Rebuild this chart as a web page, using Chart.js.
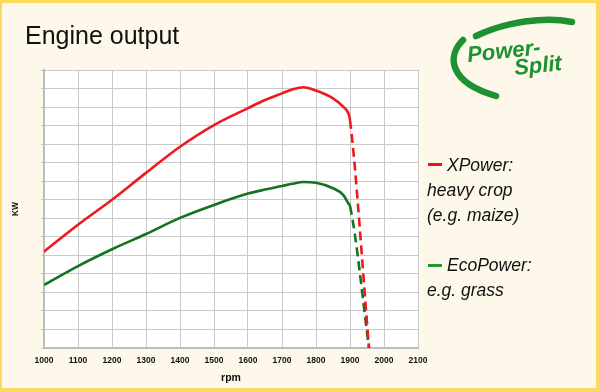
<!DOCTYPE html>
<html>
<head>
<meta charset="utf-8">
<script src="https://cdn.jsdelivr.net/npm/chart.js@4/dist/chart.umd.min.js"></script>
<style>
  html, body { margin: 0; padding: 0; }
  body { width: 600px; height: 392px; overflow: hidden; font-family: "Liberation Sans", Arial, sans-serif; }
  #frame { position: absolute; left: 0; top: 0; width: 600px; height: 392px; box-sizing: border-box;
           background: #fdf8ea; border-style: solid; border-color: #fcd95e; border-width: 3px 4px 4px 2px; }
  #c { position: absolute; left: 0; top: 0; }
  .t { position: absolute; white-space: nowrap; color: #111; }
  #title { left: 25px; top: 20px; font-size: 25px; line-height: 30px; }
  .leg { font-style: italic; font-size: 17.5px; line-height: 25px; }
  .mk { position: absolute; width: 14px; height: 3px; }
</style>
</head>
<body>
<div id="frame"></div>
<canvas id="c" width="600" height="392"></canvas>
<div class="t" id="title">Engine output</div>

<div class="mk" style="left:428px;top:163px;background:#e8141b"></div>
<div class="t leg" style="left:447px;top:153px">XPower:</div>
<div class="t leg" style="left:427px;top:178px">heavy crop</div>
<div class="t leg" style="left:427px;top:203px">(e.g. maize)</div>
<div class="mk" style="left:428px;top:264px;background:#1f9a2c"></div>
<div class="t leg" style="left:447px;top:253px">EcoPower:</div>
<div class="t leg" style="left:427px;top:278px">e.g. grass</div>

<svg style="position:absolute;left:0;top:0" width="600" height="392">
  <path d="M 476 36 C 505 22, 545 16, 572 22" fill="none" stroke="#1e9130" stroke-width="6.5" stroke-linecap="round"/>
  <path d="M 463 40 C 447 56, 448 82, 496 96" fill="none" stroke="#1e9130" stroke-width="6.5" stroke-linecap="round"/>
  <text x="468" y="62" transform="rotate(-6 468 62)" font-family="Liberation Sans, Arial, sans-serif" font-weight="bold" font-style="italic" font-size="22" fill="#1e9130">Power-</text>
  <text x="515" y="75" transform="rotate(-6 515 75)" font-family="Liberation Sans, Arial, sans-serif" font-weight="bold" font-style="italic" font-size="22" fill="#1e9130">Split</text>
</svg>

<script>
const rpm      = [1000, 1100, 1200, 1300, 1400, 1500, 1600, 1650, 1700, 1730, 1763, 1800, 1850, 1880, 1895, 1900, 1956];
const xpower   = [5.20, 6.65, 8.00, 9.45, 10.86, 12.03, 12.94, 13.38, 13.74, 13.95, 14.07, 13.89, 13.47, 13.02, 12.67, 12.30, 0];
const ecopower = [3.40, 4.42, 5.33, 6.15, 7.02, 7.72, 8.33, 8.55, 8.74, 8.86, 8.96, 8.92, 8.62, 8.26, 7.81, 7.66, 0];
const xTicks   = [1000, 1100, 1200, 1300, 1400, 1500, 1600, 1700, 1800, 1900, 2000, 2100];
const dashFrom = 1900;

const pts = (ys) => rpm.map((x, i) => ({ x: x, y: ys[i] }));
const dashSeg = { borderDash: ctx => ctx.p0.parsed.x >= dashFrom ? [9, 5] : undefined };

const plotBg = {
  id: 'plotBg',
  beforeDraw(chart) {
    const { ctx, chartArea: a } = chart;
    ctx.save();
    ctx.fillStyle = '#ffffff';
    ctx.fillRect(a.left, a.top, a.right - a.left, a.bottom - a.top);
    ctx.restore();
  }
};

new Chart(document.getElementById('c'), {
  type: 'line',
  data: {
    datasets: [
      { label: 'XPower', data: pts(xpower), borderColor: '#ec1a1f', borderWidth: 2.6,
        pointRadius: 0, cubicInterpolationMode: 'monotone', segment: dashSeg },
      { label: 'EcoPower', data: pts(ecopower), borderColor: '#127320', borderWidth: 2.6,
        pointRadius: 0, cubicInterpolationMode: 'monotone', segment: dashSeg }
    ]
  },
  options: {
    responsive: false,
    animation: false,
    layout: { padding: { left: 0, right: 182, top: 70, bottom: 0 } },
    plugins: { legend: { display: false }, tooltip: { enabled: false } },
    scales: {
      x: {
        type: 'linear', min: 1000, max: 2100,
        afterBuildTicks: s => { s.ticks = xTicks.map(v => ({ value: v })); },
        afterFit: s => { s.height = 44; },
        ticks: { color: '#111', padding: 8, callback: v => String(v),
                 font: { family: 'Liberation Sans, Arial', size: 8.5, weight: 'bold' } },
        grid: { color: '#c9c9c9', lineWidth: 1, drawTicks: false },
        border: { color: '#bdbdbd', width: 2 },
        title: { display: true, text: 'rpm', color: '#111', padding: { top: 0, bottom: 8 },
                 font: { family: 'Liberation Sans, Arial', size: 10.5, weight: 'bold' } }
      },
      y: {
        min: 0, max: 15,
        ticks: { display: false, stepSize: 1 },
        afterFit: s => { s.width = 44; },
        grid: { color: '#c9c9c9', lineWidth: 1, tickLength: 3 },
        border: { color: '#bdbdbd', width: 2 },
        title: { display: true, text: 'KW', color: '#111', padding: { top: 11, bottom: 0 },
                 font: { family: 'Liberation Sans, Arial', size: 8.5, weight: 'bold' } }
      }
    }
  },
  plugins: [plotBg]
});
</script>
</body>
</html>
